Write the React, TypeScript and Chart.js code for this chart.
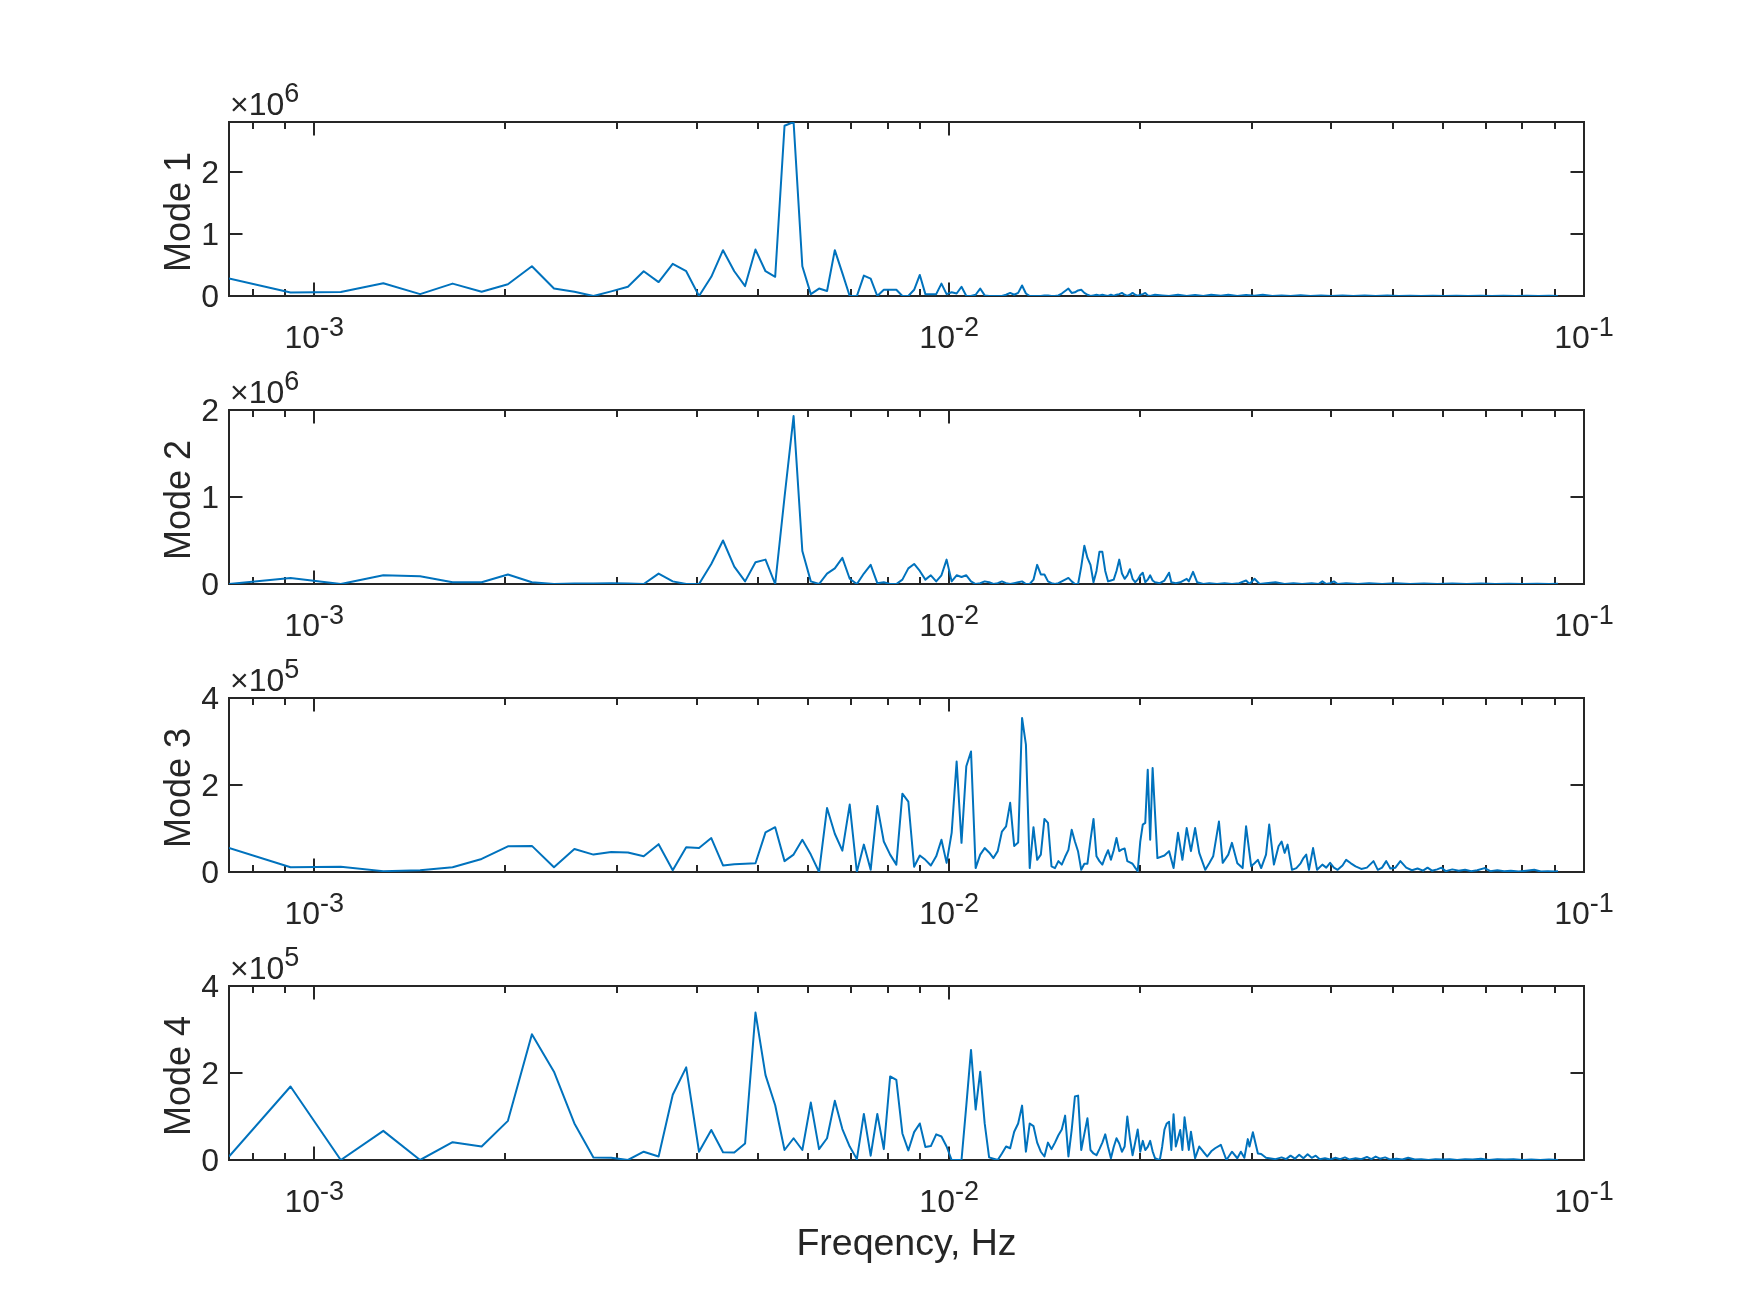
import React, { useEffect, useRef } from "react";
import { Chart, registerables } from "chart.js";

Chart.register(...registerables);

// ---------------- data ----------------
// spectra are sampled on FFT bins; frequency = bin * BIN_WIDTH_HZ
const BIN_WIDTH_HZ = 1 / 5450;
const FIRST_BIN = 4;
const FREQ_MAX_HZ = 0.1;

const X_MAJOR_TICKS = [1e-3, 1e-2, 1e-1];
const X_MAJOR_EXPONENTS = ["-3", "-2", "-1"];
const X_MINOR_TICKS = [
  8e-4, 9e-4, 2e-3, 3e-3, 4e-3, 5e-3, 6e-3, 7e-3, 8e-3, 9e-3,
  2e-2, 3e-2, 4e-2, 5e-2, 6e-2, 7e-2, 8e-2, 9e-2,
];
const X_LABEL = "Freqency, Hz";

const MODE_LABELS = ["Mode 1", "Mode 2", "Mode 3", "Mode 4"];
const MODE_Y_EXPONENTS = ["6", "6", "5", "5"];
const MODE_Y_MAX = [2.81, 2, 4, 4];
const MODE_Y_TICKS = [
  [0, 1, 2],
  [0, 1, 2],
  [0, 2, 4],
  [0, 2, 4],
];

// [bin, amplitude x10^6]
const MODE1_SPECTRUM: [number, number][] = [
  [4, 0.285], [5, 0.055], [6, 0.065], [7, 0.205], [8, 0.03], [9, 0.2], [10, 0.07], [11, 0.19],
  [12, 0.48], [13, 0.12], [14, 0.07], [15, 0.0], [16, 0.075], [17, 0.15], [18, 0.4], [19, 0.225],
  [20, 0.52], [21, 0.4], [22, 0.0], [23, 0.31], [24, 0.74], [25, 0.4], [26, 0.16], [27, 0.75],
  [28, 0.4], [29, 0.31], [30, 2.75], [31, 2.81], [32, 0.48], [33, 0.03], [34, 0.12], [35, 0.08],
  [36, 0.74], [37, 0.37], [38, 0.0], [39, 0.0], [40, 0.33], [41, 0.28], [42, 0.0], [43, 0.1],
  [44, 0.1], [45, 0.1], [46, 0.0], [47, 0.0], [48, 0.1], [49, 0.34], [50, 0.03], [51, 0.03],
  [52, 0.03], [53, 0.2], [54, 0.03], [55, 0.06], [56, 0.04], [57, 0.15], [58, 0.0], [59, 0.0],
  [60, 0.02], [61, 0.12], [62, 0.01], [63, 0.0], [64, 0.0], [65, 0.0], [66, 0.0], [67, 0.02],
  [68, 0.05], [69, 0.02], [70, 0.05], [71, 0.17], [72, 0.04], [73, 0.0], [74, 0.0], [75, 0.0],
  [76, 0.0], [77, 0.01], [78, 0.01], [79, 0.0], [80, 0.0], [81, 0.01], [82, 0.04], [83, 0.08],
  [84, 0.12], [85, 0.05], [86, 0.06], [87, 0.09], [88, 0.1], [89, 0.05], [90, 0.02], [91, 0.0],
  [92, 0.01], [93, 0.02], [94, 0.01], [95, 0.02], [96, 0.01], [97, 0.0], [98, 0.02], [99, 0.0],
  [100, 0.02], [101, 0.03], [102, 0.05], [103, 0.02], [104, 0.0], [105, 0.02], [106, 0.05],
  [107, 0.02], [108, 0.0], [109, 0.02], [110, 0.03], [111, 0.05], [112, 0.01], [113, 0.0],
  [115, 0.02], [118, 0.01], [121, 0.0], [125, 0.02], [129, 0.0], [133, 0.015], [137, 0.0],
  [141, 0.02], [146, 0.005], [150, 0.02], [155, 0.0], [160, 0.015], [165, 0.005], [170, 0.02],
  [176, 0.0], [182, 0.01], [188, 0.0], [195, 0.012], [202, 0.0], [210, 0.01], [218, 0.0],
  [227, 0.01], [236, 0.0], [246, 0.008], [256, 0.0], [267, 0.008], [278, 0.0], [290, 0.006],
  [302, 0.0], [315, 0.006], [329, 0.0], [343, 0.005], [358, 0.0], [374, 0.005], [390, 0.0],
  [407, 0.004], [425, 0.0], [443, 0.004], [462, 0.0], [480, 0.003], [496, 0.0],
];

// [bin, amplitude x10^6]
const MODE2_SPECTRUM: [number, number][] = [
  [4, 0.0], [5, 0.07], [6, 0.0], [7, 0.1], [8, 0.09], [9, 0.02], [10, 0.02], [11, 0.11],
  [12, 0.02], [13, 0.0], [14, 0.005], [15, 0.005], [16, 0.01], [17, 0.005], [18, 0.0], [19, 0.12],
  [20, 0.03], [21, 0.0], [22, 0.0], [23, 0.23], [24, 0.5], [25, 0.2], [26, 0.03], [27, 0.25],
  [28, 0.28], [29, 0.0], [30, 1.0], [31, 1.93], [32, 0.38], [33, 0.03], [34, 0.0], [35, 0.12],
  [36, 0.18], [37, 0.3], [38, 0.06], [39, 0.0], [40, 0.12], [41, 0.22], [42, 0.01], [43, 0.02],
  [44, 0.0], [45, 0.0], [46, 0.05], [47, 0.18], [48, 0.23], [49, 0.15], [50, 0.05], [51, 0.1],
  [52, 0.03], [53, 0.1], [54, 0.28], [55, 0.03], [56, 0.1], [57, 0.08], [58, 0.1], [59, 0.03],
  [60, 0.0], [61, 0.01], [62, 0.03], [63, 0.02], [64, 0.0], [65, 0.01], [66, 0.03], [67, 0.01],
  [68, 0.0], [69, 0.01], [70, 0.02], [71, 0.03], [72, 0.0], [73, 0.0], [74, 0.05], [75, 0.22],
  [76, 0.11], [77, 0.11], [78, 0.03], [79, 0.01], [80, 0.0], [81, 0.01], [82, 0.03], [83, 0.05],
  [84, 0.07], [85, 0.03], [86, 0.0], [87, 0.0], [88, 0.2], [89, 0.44], [90, 0.3], [91, 0.22],
  [92, 0.02], [93, 0.15], [94, 0.37], [95, 0.37], [96, 0.15], [97, 0.03], [98, 0.04], [99, 0.05],
  [100, 0.15], [101, 0.28], [102, 0.12], [103, 0.06], [104, 0.1], [105, 0.17], [106, 0.06],
  [107, 0.02], [108, 0.05], [109, 0.1], [110, 0.13], [111, 0.02], [112, 0.05], [113, 0.1],
  [114, 0.04], [115, 0.02], [117, 0.01], [119, 0.04], [121, 0.13], [122, 0.02], [124, 0.01],
  [126, 0.02], [129, 0.06], [130, 0.03], [132, 0.14], [134, 0.02], [137, 0.0], [140, 0.01],
  [144, 0.0], [148, 0.01], [152, 0.0], [156, 0.01], [160, 0.04], [162, 0.0], [165, 0.06],
  [168, 0.0], [172, 0.01], [178, 0.02], [184, 0.0], [190, 0.01], [196, 0.0], [203, 0.01],
  [208, 0.0], [211, 0.03], [214, 0.0], [217, 0.01], [220, 0.03], [223, 0.0], [230, 0.01],
  [240, 0.0], [250, 0.01], [262, 0.0], [275, 0.008], [290, 0.0], [305, 0.006], [320, 0.0],
  [338, 0.006], [356, 0.0], [375, 0.005], [395, 0.0], [415, 0.004], [437, 0.0], [460, 0.004],
  [480, 0.0], [496, 0.003],
];

// [bin, amplitude x10^5]
const MODE3_SPECTRUM: [number, number][] = [
  [4, 0.55], [5, 0.11], [6, 0.12], [7, 0.02], [8, 0.04], [9, 0.11], [10, 0.3], [11, 0.59],
  [12, 0.6], [13, 0.11], [14, 0.53], [15, 0.4], [16, 0.46], [17, 0.45], [18, 0.36], [19, 0.64],
  [20, 0.04], [21, 0.57], [22, 0.55], [23, 0.78], [24, 0.15], [25, 0.18], [26, 0.19], [27, 0.2],
  [28, 0.91], [29, 1.03], [30, 0.25], [31, 0.4], [32, 0.74], [33, 0.4], [34, 0.0], [35, 1.47],
  [36, 0.88], [37, 0.49], [38, 1.55], [39, 0.0], [40, 0.63], [41, 0.05], [42, 1.52], [43, 0.7],
  [44, 0.4], [45, 0.17], [46, 1.8], [47, 1.62], [48, 0.12], [49, 0.38], [50, 0.28], [51, 0.15],
  [52, 0.36], [53, 0.74], [54, 0.21], [55, 0.9], [56, 2.54], [57, 0.67], [58, 2.43], [59, 2.77],
  [60, 0.09], [61, 0.4], [62, 0.55], [63, 0.45], [64, 0.32], [65, 0.48], [66, 0.93], [67, 1.05],
  [68, 1.59], [69, 0.6], [70, 0.68], [71, 3.54], [72, 2.93], [73, 0.09], [74, 1.03], [75, 0.28],
  [76, 0.4], [77, 1.22], [78, 1.13], [79, 0.13], [80, 0.09], [81, 0.25], [82, 0.17], [83, 0.35],
  [84, 0.51], [85, 0.97], [86, 0.7], [87, 0.47], [88, 0.05], [89, 0.19], [90, 0.19], [91, 0.74],
  [92, 1.22], [93, 0.36], [94, 0.25], [95, 0.17], [96, 0.35], [97, 0.5], [98, 0.28], [99, 0.5],
  [100, 0.78], [101, 0.48], [102, 0.52], [103, 0.54], [104, 0.25], [105, 0.22], [106, 0.19],
  [107, 0.1], [108, 0.02], [109, 0.7], [110, 1.09], [111, 1.13], [112, 2.35], [113, 0.74],
  [114, 2.39], [116, 0.32], [119, 0.38], [121, 0.48], [123, 0.09], [125, 0.9], [127, 0.28],
  [129, 1.01], [131, 0.48], [133, 1.01], [135, 0.44], [138, 0.05], [140, 0.2], [142, 0.36],
  [145, 1.16], [147, 0.21], [150, 0.4], [152, 0.67], [155, 0.2], [158, 0.09], [160, 1.05],
  [163, 0.13], [165, 0.2], [167, 0.28], [169, 0.09], [172, 0.4], [174, 1.09], [177, 0.17],
  [180, 0.59], [182, 0.7], [184, 0.44], [186, 0.63], [189, 0.05], [192, 0.09], [195, 0.2],
  [197, 0.32], [199, 0.4], [201, 0.05], [204, 0.55], [207, 0.05], [211, 0.17], [214, 0.1],
  [217, 0.21], [220, 0.1], [223, 0.05], [227, 0.15], [230, 0.28], [234, 0.2], [238, 0.13],
  [243, 0.07], [248, 0.1], [254, 0.25], [258, 0.05], [262, 0.1], [266, 0.25], [270, 0.08],
  [275, 0.1], [280, 0.25], [286, 0.1], [292, 0.04], [298, 0.08], [304, 0.03], [309, 0.1],
  [314, 0.03], [320, 0.06], [325, 0.1], [330, 0.02], [338, 0.06], [346, 0.03], [354, 0.05],
  [362, 0.02], [370, 0.04], [380, 0.09], [388, 0.02], [398, 0.04], [408, 0.02], [418, 0.03],
  [430, 0.01], [442, 0.03], [455, 0.05], [466, 0.01], [478, 0.02], [488, 0.01], [496, 0.02],
];

// [bin, amplitude x10^5]
const MODE4_SPECTRUM: [number, number][] = [
  [4, 0.08], [5, 1.69], [6, 0.0], [7, 0.67], [8, 0.0], [9, 0.41], [10, 0.31], [11, 0.9],
  [12, 2.89], [13, 2.03], [14, 0.84], [15, 0.06], [16, 0.05], [17, 0.0], [18, 0.19], [19, 0.08],
  [20, 1.5], [21, 2.13], [22, 0.19], [23, 0.69], [24, 0.18], [25, 0.17], [26, 0.38], [27, 3.39],
  [28, 1.95], [29, 1.26], [30, 0.23], [31, 0.5], [32, 0.23], [33, 1.32], [34, 0.25], [35, 0.5],
  [36, 1.36], [37, 0.71], [38, 0.31], [39, 0.02], [40, 1.06], [41, 0.1], [42, 1.06], [43, 0.25],
  [44, 1.92], [45, 1.84], [46, 0.61], [47, 0.22], [48, 0.64], [49, 0.84], [50, 0.3], [51, 0.32],
  [52, 0.59], [53, 0.54], [54, 0.31], [55, 0.0], [56, 0.0], [57, 0.0], [58, 1.25], [59, 2.53],
  [60, 1.16], [61, 2.03], [62, 0.84], [63, 0.06], [64, 0.03], [65, 0.0], [66, 0.15], [67, 0.31],
  [68, 0.27], [69, 0.65], [70, 0.84], [71, 1.25], [72, 0.19], [73, 0.84], [74, 0.78], [75, 0.4],
  [76, 0.19], [77, 0.08], [78, 0.4], [79, 0.25], [80, 0.4], [81, 0.57], [82, 0.7], [83, 1.02],
  [84, 0.08], [85, 0.69], [86, 1.46], [87, 1.48], [88, 0.23], [89, 0.6], [90, 0.96], [91, 0.23],
  [92, 0.15], [93, 0.11], [94, 0.25], [95, 0.4], [96, 0.59], [97, 0.3], [98, 0.04], [99, 0.3],
  [100, 0.5], [101, 0.38], [102, 0.19], [103, 0.31], [104, 1.0], [105, 0.5], [106, 0.11],
  [107, 0.4], [108, 0.7], [109, 0.19], [110, 0.44], [111, 0.23], [112, 0.3], [113, 0.44],
  [114, 0.2], [115, 0.04], [116, 0.02], [117, 0.0], [118, 0.3], [119, 0.7], [120, 0.84],
  [121, 0.88], [122, 0.23], [123, 1.05], [124, 0.31], [126, 0.69], [127, 0.23], [128, 0.98],
  [130, 0.23], [131, 0.65], [133, 0.04], [135, 0.31], [137, 0.19], [139, 0.08], [141, 0.2],
  [143, 0.27], [146, 0.35], [149, 0.0], [152, 0.19], [155, 0.04], [157, 0.19], [159, 0.05],
  [161, 0.48], [162, 0.31], [164, 0.64], [167, 0.15], [169, 0.14], [172, 0.05], [174, 0.04],
  [178, 0.02], [182, 0.06], [185, 0.02], [188, 0.1], [191, 0.03], [194, 0.12], [197, 0.04],
  [200, 0.13], [203, 0.05], [206, 0.1], [209, 0.02], [213, 0.04], [217, 0.01], [221, 0.05],
  [225, 0.02], [229, 0.06], [233, 0.01], [238, 0.04], [243, 0.02], [248, 0.07], [252, 0.02],
  [256, 0.08], [260, 0.03], [265, 0.06], [270, 0.01], [276, 0.03], [282, 0.01], [288, 0.05],
  [295, 0.01], [302, 0.02], [310, 0.0], [318, 0.02], [326, 0.01], [335, 0.02], [344, 0.0],
  [354, 0.02], [364, 0.01], [375, 0.03], [386, 0.0], [398, 0.02], [410, 0.01], [422, 0.02],
  [436, 0.0], [450, 0.01], [465, 0.0], [480, 0.01], [496, 0.0],
];

const MODE_SPECTRA = [MODE1_SPECTRUM, MODE2_SPECTRUM, MODE3_SPECTRUM, MODE4_SPECTRUM];

// ---------------- layout & style ----------------
const FIG_W = 1750;
const FIG_H = 1313;
const AX_LEFT = 229;
const AX_RIGHT = 1584;
const AX_HEIGHT = 174;
const AX_TOPS = [122, 410, 698, 986];

const LINE_COLOR = "#0072BD";
const AXIS_COLOR = "#262626";
const FONT_FAMILY = '"Liberation Sans", Arial, Helvetica, sans-serif';
const TICK_FONT = 32;
const SUP_FONT = 27;
const YLABEL_FONT = 36;
const XLABEL_FONT = 37.5;
const MAJOR_TICK_LEN = 13.5;
const MINOR_TICK_LEN = 7;

function drawPower(
  ctx: CanvasRenderingContext2D,
  base: string,
  exp: string,
  x: number,
  baselineY: number,
  align: "center" | "left",
  rise: number
) {
  ctx.font = `${TICK_FONT}px ${FONT_FAMILY}`;
  const wb = ctx.measureText(base).width;
  ctx.font = `${SUP_FONT}px ${FONT_FAMILY}`;
  const ws = ctx.measureText(exp).width;
  const x0 = align === "center" ? x - (wb + ws) / 2 : x;
  ctx.textAlign = "left";
  ctx.textBaseline = "alphabetic";
  ctx.font = `${TICK_FONT}px ${FONT_FAMILY}`;
  ctx.fillText(base, x0, baselineY);
  ctx.font = `${SUP_FONT}px ${FONT_FAMILY}`;
  ctx.fillText(exp, x0 + wb, baselineY - rise);
}

function makeAxesPlugin(i: number) {
  return {
    id: "matlabAxes" + i,
    beforeDatasetsDraw(chart: any) {
      const ctx: CanvasRenderingContext2D = chart.ctx;
      const { left, right, top, bottom } = chart.chartArea;
      const xs = chart.scales.x;
      const ys = chart.scales.y;
      ctx.save();
      ctx.strokeStyle = AXIS_COLOR;
      ctx.fillStyle = AXIS_COLOR;
      ctx.lineWidth = 2;
      ctx.lineCap = "butt";
      ctx.strokeRect(left, top, right - left, bottom - top);

      ctx.beginPath();
      for (const v of X_MAJOR_TICKS) {
        const px = Math.round(xs.getPixelForValue(v));
        ctx.moveTo(px, bottom);
        ctx.lineTo(px, bottom - MAJOR_TICK_LEN);
        ctx.moveTo(px, top);
        ctx.lineTo(px, top + MAJOR_TICK_LEN);
      }
      for (const v of X_MINOR_TICKS) {
        const px = Math.round(xs.getPixelForValue(v));
        ctx.moveTo(px, bottom);
        ctx.lineTo(px, bottom - MINOR_TICK_LEN);
        ctx.moveTo(px, top);
        ctx.lineTo(px, top + MINOR_TICK_LEN);
      }
      for (const v of MODE_Y_TICKS[i]) {
        const py = Math.round(ys.getPixelForValue(v));
        ctx.moveTo(left, py);
        ctx.lineTo(left + MAJOR_TICK_LEN, py);
        ctx.moveTo(right, py);
        ctx.lineTo(right - MAJOR_TICK_LEN, py);
      }
      ctx.stroke();

      // x tick labels 10^n
      X_MAJOR_TICKS.forEach((v, j) => {
        const px = xs.getPixelForValue(v);
        drawPower(ctx, "10", X_MAJOR_EXPONENTS[j], px, bottom + 52, "center", 12);
      });

      // y tick labels
      ctx.font = `${TICK_FONT}px ${FONT_FAMILY}`;
      ctx.textAlign = "right";
      ctx.textBaseline = "middle";
      for (const v of MODE_Y_TICKS[i]) {
        const py = ys.getPixelForValue(v);
        ctx.fillText(String(v), left - 10, py + 2);
      }

      // exponent label
      drawPower(ctx, "\u00d710", MODE_Y_EXPONENTS[i], left + 1, top - 7, "left", 13);

      // y label
      ctx.save();
      ctx.translate(190, (top + bottom) / 2 + 3);
      ctx.rotate(-Math.PI / 2);
      ctx.font = `${YLABEL_FONT}px ${FONT_FAMILY}`;
      ctx.textAlign = "center";
      ctx.textBaseline = "alphabetic";
      ctx.fillText(MODE_LABELS[i], 0, 0);
      ctx.restore();

      if (i === MODE_LABELS.length - 1) {
        ctx.font = `${XLABEL_FONT}px ${FONT_FAMILY}`;
        ctx.textAlign = "center";
        ctx.textBaseline = "alphabetic";
        ctx.fillText(X_LABEL, (left + right) / 2, bottom + 95);
      }
      ctx.restore();
    },
  };
}

export default function App() {
  const canvases = useRef<(HTMLCanvasElement | null)[]>([]);

  useEffect(() => {
    const charts = MODE_SPECTRA.map((spectrum, i) => {
      const top = AX_TOPS[i];
      return new Chart(canvases.current[i] as HTMLCanvasElement, {
        type: "line",
        data: {
          datasets: [
            {
              label: MODE_LABELS[i],
              data: spectrum.map(([bin, amp]) => ({ x: bin * BIN_WIDTH_HZ, y: amp })),
              borderColor: LINE_COLOR,
              borderWidth: 2,
              borderJoinStyle: "round",
              pointRadius: 0,
              fill: false,
              tension: 0,
            },
          ],
        },
        options: {
          responsive: false,
          animation: false,
          devicePixelRatio: 1,
          events: [],
          layout: {
            padding: {
              left: AX_LEFT,
              right: FIG_W - AX_RIGHT,
              top: top,
              bottom: FIG_H - top - AX_HEIGHT,
            },
          },
          scales: {
            x: {
              type: "logarithmic",
              min: FIRST_BIN * BIN_WIDTH_HZ,
              max: FREQ_MAX_HZ,
              display: false,
            },
            y: {
              type: "linear",
              min: 0,
              max: MODE_Y_MAX[i],
              display: false,
            },
          },
          plugins: {
            legend: { display: false },
            tooltip: { enabled: false },
          },
        },
        plugins: [makeAxesPlugin(i)],
      } as any);
    });
    return () => charts.forEach((c) => c.destroy());
  }, []);

  return (
    <div
      style={{
        position: "absolute",
        left: 0,
        top: 0,
        width: FIG_W,
        height: FIG_H,
        background: "#ffffff",
      }}
    >
      {MODE_SPECTRA.map((_, i) => (
        <canvas
          key={i}
          ref={(el) => {
            canvases.current[i] = el;
          }}
          width={FIG_W}
          height={FIG_H}
          style={{ position: "absolute", left: 0, top: 0, width: FIG_W, height: FIG_H }}
        />
      ))}
    </div>
  );
}
